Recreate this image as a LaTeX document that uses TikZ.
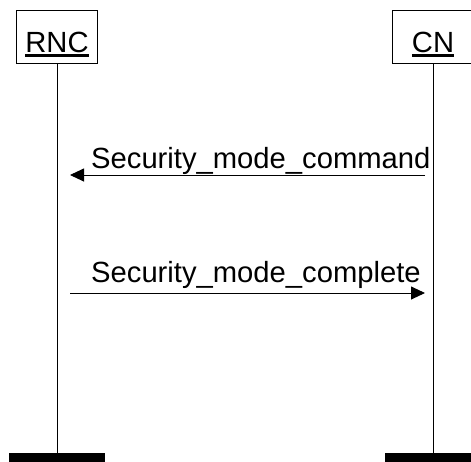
\documentclass[tikz,border=0pt]{standalone}
\usepackage{fontspec}
\setmainfont{Liberation Sans}
\usetikzlibrary{arrows.meta,positioning}

% underlined entity name, thick rule below the baseline
\newcommand{\entname}[1]{\vtop{\hbox{#1}\kern2pt\hrule height 3pt}}

\begin{document}
\begin{tikzpicture}[
x=1pt, y=-1pt,
font=\fontsize{29.2}{31}\selectfont,
entity/.style={draw, line width=0.9pt, inner sep=0pt, minimum width=81pt, text height=42pt, text depth=11pt},
lifeend/.style={fill=black, inner sep=0pt, minimum width=96pt, minimum height=9pt},
life/.style={line width=0.9pt},
msg/.style={-{Triangle[length=14pt, width=13pt]}, line width=0.9pt},
msgtext/.style={anchor=base west, inner sep=0pt}
]
\useasboundingbox (0,0) rectangle (471,461);

\node[entity] (rnc) at (57,36.5) {\entname{RNC}};
\node[entity] (cn) at (433,36.5) {\entname{CN}};
\node[lifeend] (rncend) at (57,457.5) {};
\node[lifeend] (cnend) at (433,457.5) {};

\draw[life] (rnc) -- (rncend);
\draw[life] (cn) -- (cnend);

% messages
\coordinate (cmdr) at (70,175);
\coordinate (cmdc) at (425,175);
\coordinate (cplr) at (70,293);
\coordinate (cplc) at (425,293);

\draw[msg] (cmdc) -- (cmdr);
\node[msgtext] (cmd) at (91,168) {Security\_mode\_command};
\draw[msg] (cplr) -- (cplc);
\node[msgtext] (cpl) at (91,282) {Security\_mode\_complete};
\end{tikzpicture}
\end{document}
